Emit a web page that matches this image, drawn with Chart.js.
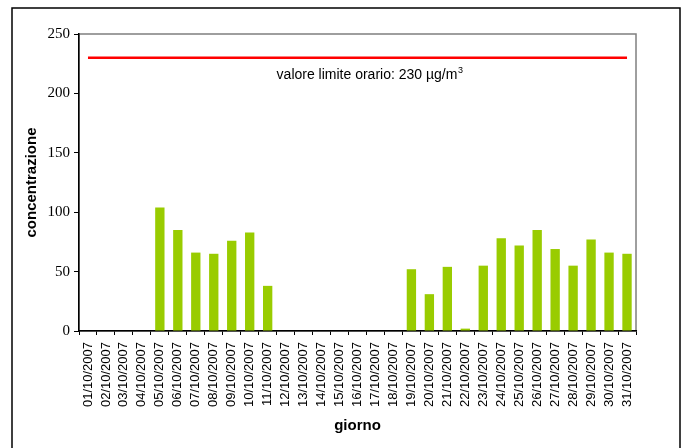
<!DOCTYPE html>
<html>
<head>
<meta charset="utf-8">
<script src="https://cdn.jsdelivr.net/npm/chart.js@4"></script>
<style>
  html, body { margin: 0; padding: 0; background: #fff; }
  #wrap { width: 686px; height: 448px; position: relative; }
</style>
</head>
<body>
<div id="wrap"><canvas id="c" width="686" height="448"></canvas></div>
<script>
const categories = [
  "01/10/2007","02/10/2007","03/10/2007","04/10/2007","05/10/2007","06/10/2007",
  "07/10/2007","08/10/2007","09/10/2007","10/10/2007","11/10/2007","12/10/2007",
  "13/10/2007","14/10/2007","15/10/2007","16/10/2007","17/10/2007","18/10/2007",
  "19/10/2007","20/10/2007","21/10/2007","22/10/2007","23/10/2007","24/10/2007",
  "25/10/2007","26/10/2007","27/10/2007","28/10/2007","29/10/2007","30/10/2007",
  "31/10/2007"
];
const concentrazione = [
  null, null, null, null, 104, 85,
  66, 65, 76, 83, 38, null,
  null, null, null, null, null, null,
  52, 31, 54, 2, 55, 78,
  72, 85, 69, 55, 77, 66,
  65
];
const LIMIT = 230;
const limitLabel = "valore limite orario: 230 µg/m";
const limitLabelSup = "3";
const yTicks = [0, 50, 100, 150, 200, 250];

const framePlugin = {
  id: 'frame',
  beforeDraw(chart) {
    const ctx = chart.ctx;
    const a = chart.chartArea;
    ctx.save();
    ctx.fillStyle = '#ffffff';
    ctx.fillRect(0, 0, chart.width, chart.height);
    ctx.strokeStyle = '#000000';
    ctx.lineWidth = 1.5;
    ctx.strokeRect(12, 8, 668, 470);
    ctx.strokeStyle = '#7f7f7f';
    ctx.lineWidth = 1.5;
    ctx.strokeRect(a.left, a.top, a.right - a.left, a.bottom - a.top);
    ctx.restore();
  },
  afterDatasetsDraw(chart) {
    const ctx = chart.ctx;
    const ys = chart.scales.y;
    const a = chart.chartArea;
    const yLine = ys.getPixelForValue(LIMIT);
    ctx.save();
    ctx.fillStyle = '#000000';
    ctx.textBaseline = 'alphabetic';
    ctx.textAlign = 'left';
    ctx.font = '14px "Liberation Sans", Arial, sans-serif';
    const w = ctx.measureText(limitLabel).width;
    ctx.font = '9px "Liberation Sans", Arial, sans-serif';
    const ws = ctx.measureText(limitLabelSup).width;
    const cx = (a.left + a.right) / 2 + 12;
    const x0 = cx - (w + ws) / 2;
    const base = yLine + 21;
    ctx.font = '14px "Liberation Sans", Arial, sans-serif';
    ctx.fillText(limitLabel, x0, base);
    ctx.font = '9px "Liberation Sans", Arial, sans-serif';
    ctx.fillText(limitLabelSup, x0 + w + 0.5, base - 6);
    ctx.restore();
  }
};

new Chart(document.getElementById('c'), {
  type: 'bar',
  data: {
    labels: categories,
    datasets: [
      {
        type: 'bar',
        label: 'concentrazione',
        data: concentrazione,
        backgroundColor: '#99CC00',
        borderWidth: 0,
        categoryPercentage: 1.0,
        barPercentage: 0.52,
        order: 2
      },
      {
        type: 'line',
        label: 'valore limite',
        data: [{x: categories[0], y: LIMIT}, {x: categories[categories.length - 1], y: LIMIT}],
        borderColor: '#FF0000',
        borderWidth: 2.5,
        pointRadius: 0,
        fill: false,
        order: 1
      }
    ]
  },
  options: {
    responsive: false,
    animation: false,
    devicePixelRatio: 1,
    layout: { padding: { left: 0, top: 34, right: 50, bottom: 0 } },
    plugins: {
      legend: { display: false },
      title: { display: false },
      tooltip: { enabled: false }
    },
    scales: {
      x: {
        type: 'category',
        offset: true,
        afterFit(scale) { scale.height = 117; },
        grid: {
          display: true,
          offset: true,
          drawOnChartArea: false,
          drawTicks: true,
          tickLength: 4,
          tickColor: '#000000',
          tickWidth: 1
        },
        border: { display: true, color: '#000000', width: 1.5 },
        ticks: {
          autoSkip: false,
          maxRotation: 90,
          minRotation: 90,
          padding: 7,
          color: '#000000',
          font: { family: '"Liberation Sans", Arial, sans-serif', size: 13 }
        },
        title: {
          display: true,
          text: 'giorno',
          color: '#000000',
          font: { family: '"Liberation Sans", Arial, sans-serif', size: 15, weight: 'bold' },
          padding: { top: 0, bottom: 13 }
        }
      },
      y: {
        min: 0,
        max: 250,
        afterFit(scale) { scale.width = 79; },
        afterBuildTicks(scale) { scale.ticks = yTicks.map(v => ({ value: v })); },
        grid: {
          display: true,
          drawOnChartArea: false,
          drawTicks: true,
          tickLength: 5,
          tickColor: '#000000',
          tickWidth: 1
        },
        border: { display: true, color: '#000000', width: 1.5 },
        ticks: {
          padding: 4,
          color: '#000000',
          font: { family: '"Liberation Serif", "Times New Roman", serif', size: 15 }
        },
        title: {
          display: true,
          text: 'concentrazione',
          color: '#000000',
          font: { family: '"Liberation Sans", Arial, sans-serif', size: 15, weight: 'bold' },
          padding: { top: 22.5, bottom: 0 }
        }
      }
    }
  },
  plugins: [framePlugin]
});
</script>
</body>
</html>
